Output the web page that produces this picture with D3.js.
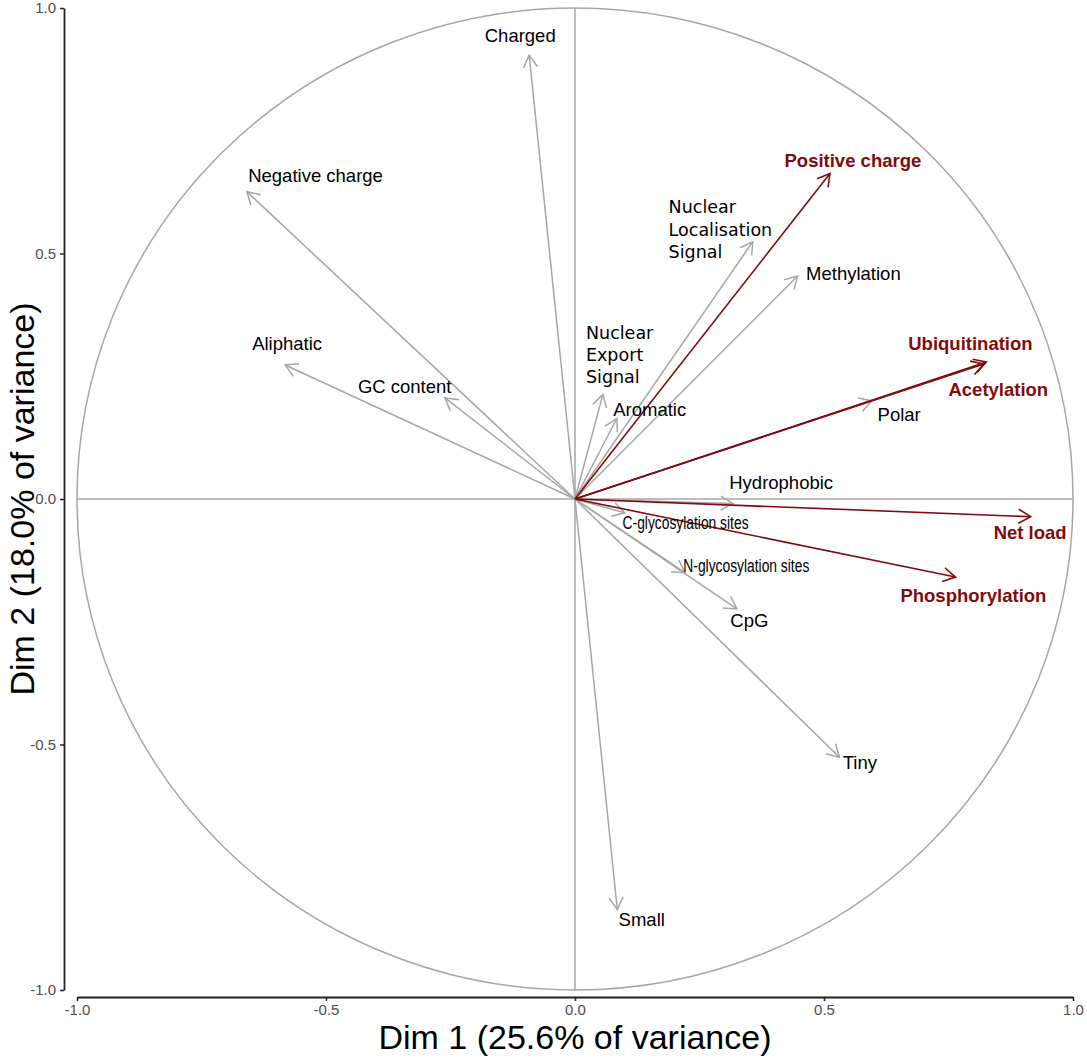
<!DOCTYPE html>
<html>
<head>
<meta charset="utf-8">
<script src="https://cdn.jsdelivr.net/npm/d3@7/dist/d3.min.js"></script>
<style>
  html, body { margin: 0; padding: 0; background: #fff; }
  svg { display: block; }
</style>
</head>
<body>
<svg id="chart" width="1087" height="1059"></svg>
<script>
// ---------------- DATA ----------------
const variables = [
  "Charged", "Negative charge", "Aliphatic", "GC content",
  "Nuclear\nExport\nSignal", "Aromatic", "Nuclear\nLocalisation\nSignal",
  "Methylation", "Polar", "Hydrophobic", "C-glycosylation sites",
  "N-glycosylation sites", "CpG", "Tiny", "Small",
  "Positive charge", "Ubiquitination", "Acetylation", "Net load", "Phosphorylation"
];
// coordinates on Dim 1 / Dim 2 (arrow tips)
const dim1 = [-0.092, -0.659, -0.582, -0.261, 0.056, 0.084, 0.357, 0.447, 0.596, 0.317,
              0.100, 0.221, 0.325, 0.531, 0.085, 0.512, 0.826, 0.821, 0.915, 0.764];
const dim2 = [0.904, 0.626, 0.273, 0.206, 0.213, 0.164, 0.524, 0.454, 0.200, -0.009,
              -0.028, -0.150, -0.224, -0.526, -0.836, 0.663, 0.279, 0.275, -0.036, -0.159];
// highlighted (PTM-related) variables
const highlighted = [0,0,0,0,0,0,0,0,0,0,0,0,0,0,0,1,1,1,1,1];
// repelled label anchors (data units)
const labelDim1 = [-0.110, -0.521, -0.578, -0.342, 0.022, 0.150, 0.188, 0.559, 0.651, 0.414,
                   0.222, 0.344, 0.350, 0.572, 0.134, 0.558, 0.794, 0.850, 0.914, 0.800];
const labelDim2 = [0.943, 0.658, 0.317, 0.229, 0.293, 0.183, 0.549, 0.460, 0.173, 0.033,
                   -0.048, -0.136, -0.248, -0.537, -0.857, 0.689, 0.316, 0.223, -0.069, -0.196];
const tickValues = [-1.0, -0.5, 0.0, 0.5, 1.0];
const xTitle = "Dim 1 (25.6% of variance)";
const yTitle = "Dim 2 (18.0% of variance)";

// ---------------- DRAWING ----------------
const svg = d3.select("#chart");
const x = d3.scaleLinear().domain([-1, 1]).range([77, 1073]);
const y = d3.scaleLinear().domain([-1, 1]).range([990, 8]);

const GREY = "#a6a6a6";
const RED = "#820a0a";

// circle of correlations
svg.append("ellipse")
  .attr("cx", x(0)).attr("cy", y(0))
  .attr("rx", x(1) - x(0)).attr("ry", y(0) - y(1))
  .attr("fill", "none").attr("stroke", GREY).attr("stroke-width", 1.5);

// zero lines
svg.append("line")
  .attr("x1", x(-1)).attr("x2", x(1)).attr("y1", y(0)).attr("y2", y(0))
  .attr("stroke", GREY).attr("stroke-width", 1.5);
svg.append("line")
  .attr("x1", x(0)).attr("x2", x(0)).attr("y1", y(-1)).attr("y2", y(1))
  .attr("stroke", GREY).attr("stroke-width", 1.5);

// axes
const f1 = d3.format(".1f");
const fmt = d => f1(d).replace("\u2212", "-");
const xAxis = svg.append("g")
  .attr("transform", "translate(0,997)")
  .call(d3.axisBottom(x).tickValues(tickValues).tickFormat(fmt).tickSizeOuter(0).tickSizeInner(4).tickPadding(3));
const yAxis = svg.append("g")
  .attr("transform", "translate(64,0)")
  .call(d3.axisLeft(y).tickValues(tickValues).tickFormat(fmt).tickSizeOuter(0).tickSizeInner(4).tickPadding(4));
[xAxis, yAxis].forEach(g => {
  g.select(".domain").attr("stroke", "#222").attr("stroke-width", 1.8);
  g.selectAll(".tick line").attr("stroke", "#222").attr("stroke-width", 1.5);
  g.selectAll(".tick text")
    .attr("fill", "#4d4d4d")
    .style("font-family", "'Liberation Sans', Arial, sans-serif")
    .style("font-size", "15px");
});

// axis titles
svg.append("text")
  .attr("x", (x(-1) + x(1)) / 2).attr("y", 1049)
  .attr("text-anchor", "middle")
  .style("font-family", "'Liberation Sans', Arial, sans-serif")
  .style("font-size", "34px").attr("fill", "#000")
  .text(xTitle);
svg.append("text")
  .attr("transform", `translate(34,${(y(-1) + y(1)) / 2}) rotate(-90)`)
  .attr("text-anchor", "middle")
  .style("font-family", "'Liberation Sans', Arial, sans-serif")
  .style("font-size", "34px").attr("fill", "#000")
  .text(yTitle);

// build records
const rows = variables.map((v, i) => ({
  name: v, d1: dim1[i], d2: dim2[i], hi: highlighted[i] === 1,
  l1: labelDim1[i], l2: labelDim2[i]
}));

const ox = x(0), oy = y(0);
const headLen = 14, headAng = Math.PI / 6;

function drawArrow(g, r) {
  const tx = x(r.d1), ty = y(r.d2);
  const col = r.hi ? RED : GREY;
  g.append("line")
    .attr("x1", ox).attr("y1", oy).attr("x2", tx).attr("y2", ty)
    .attr("stroke", col).attr("stroke-width", r.hi ? 1.6 : 1.5);
  const th = Math.atan2(ty - oy, tx - ox);
  const a1 = th + Math.PI - headAng, a2 = th + Math.PI + headAng;
  const p = d3.path();
  p.moveTo(tx + headLen * Math.cos(a1), ty + headLen * Math.sin(a1));
  p.lineTo(tx, ty);
  p.lineTo(tx + headLen * Math.cos(a2), ty + headLen * Math.sin(a2));
  g.append("path").attr("d", p.toString())
    .attr("fill", "none").attr("stroke", col)
    .attr("stroke-width", r.hi ? 1.6 : 1.5)
    .attr("stroke-linejoin", "miter").attr("stroke-linecap", "butt");
}

const arrows = svg.append("g");
rows.filter(r => !r.hi).forEach(r => drawArrow(arrows, r));
rows.filter(r => r.hi).forEach(r => drawArrow(arrows, r));

// labels
const labels = svg.append("g");
rows.forEach(r => {
  const lines = r.name.split("\n");
  const multi = lines.length > 1;
  const narrow = /glycosylation/.test(r.name);
  const t = labels.append("text")
    .attr("x", x(r.l1)).attr("y", y(r.l2))
    .attr("text-anchor", multi ? "start" : "middle")
    .attr("fill", r.hi ? RED : "#000")
    .style("font-weight", r.hi ? "bold" : "normal")
    .style("font-family", multi ? "'DejaVu Sans', sans-serif"
                        : narrow ? "'Liberation Sans Narrow', 'Liberation Sans', Arial, sans-serif"
                        : "'Liberation Sans', Arial, sans-serif")
    .style("font-size", multi ? "17.5px" : narrow ? "17.5px" : "18.5px");
  if (multi) {
    lines.forEach((ln, k) => {
      t.append("tspan")
        .attr("x", x(r.l1))
        .attr("dy", k === 0 ? `${0.35 - (lines.length - 1) / 2 * 1.27}em` : "1.27em")
        .text(ln);
    });
  } else {
    t.attr("dy", "0.35em").text(r.name);
    if (narrow) t.attr("textLength", 126).attr("lengthAdjust", "spacingAndGlyphs");
  }
});
</script>
</body>
</html>
